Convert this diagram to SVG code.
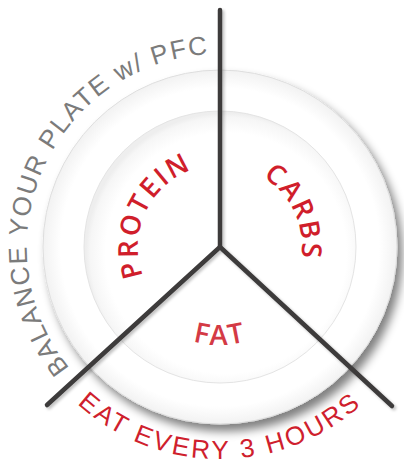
<svg xmlns="http://www.w3.org/2000/svg" xmlns:xlink="http://www.w3.org/1999/xlink" width="404" height="462" viewBox="0 0 404 462">
  <defs>
    <style>
      .outer-lbl { font-family: "Liberation Sans", Arial, sans-serif; font-size: 26px; }
      .gray { fill: #7b7b7b; }
      .red { fill: #cf1f2e; }
      .food { font-family: "Open Sans", "Liberation Sans", Arial, sans-serif; font-size: 27.5px; font-weight: 600; fill: #d01e2b; letter-spacing: 2px; }
      .arm { fill: none; stroke: #3c3a3a; stroke-width: 4.5; stroke-linecap: round; stroke-linejoin: round; }
    </style>
    <filter id="plateShadow" x="-20%" y="-20%" width="150%" height="150%">
      <feGaussianBlur in="SourceAlpha" stdDeviation="5"/>
      <feOffset dx="5" dy="7" result="b"/>
      <feComponentTransfer><feFuncA type="linear" slope="0.5"/></feComponentTransfer>
      <feMerge><feMergeNode/><feMergeNode in="SourceGraphic"/></feMerge>
    </filter>
    <filter id="lineShadow" x="-20%" y="-20%" width="140%" height="140%">
      <feGaussianBlur in="SourceAlpha" stdDeviation="1.5"/>
      <feOffset dx="1.5" dy="1.5"/>
      <feComponentTransfer><feFuncA type="linear" slope="0.25"/></feComponentTransfer>
      <feMerge><feMergeNode/><feMergeNode in="SourceGraphic"/></feMerge>
    </filter>
    <radialGradient id="rimGrad" cx="220" cy="247" r="177" gradientUnits="userSpaceOnUse">
      <stop offset="0.9" stop-color="#ffffff"/>
      <stop offset="1" stop-color="#f2f2f2"/>
    </radialGradient>
    <radialGradient id="wellGrad" cx="226" cy="253" r="140" gradientUnits="userSpaceOnUse">
      <stop offset="0.86" stop-color="#ffffff"/>
      <stop offset="0.97" stop-color="#f6f6f6"/>
      <stop offset="1" stop-color="#eeeeee"/>
    </radialGradient>
    <path id="balPath" d="M147.7,425.9 A193,193 0 1 1 304.6,73.5"/>
    <path id="eatPath" d="M8,247 A212,212 0 0 0 432,247"/>
    <path id="proPath" d="M185.3,321.3 A82,82 0 1 1 254.7,172.7"/>
    <path id="carbPath" d="M185.3,172.7 A82,82 0 1 1 254.7,321.3"/>
    <path id="fatPath" d="M122,247 A98,98 0 0 0 318,247"/>
  </defs>

  <rect width="404" height="462" fill="#ffffff"/>

  <g id="plate">
    <circle cx="220" cy="247" r="177" fill="url(#rimGrad)" stroke="#dedede" stroke-width="1" filter="url(#plateShadow)"/>
    <circle cx="220" cy="247" r="136" fill="url(#wellGrad)" stroke="#e4e4e4" stroke-width="1"/>
  </g>

  <g id="balance-label">
    <text class="outer-lbl gray" letter-spacing="1.6"><textPath xlink:href="#balPath" href="#balPath" startOffset="50%" text-anchor="middle">BALANCE YOUR PLATE w/ PFC</textPath></text>
  </g>

  <g id="eat-label">
    <text class="outer-lbl red" letter-spacing="2.8"><textPath xlink:href="#eatPath" href="#eatPath" startOffset="50%" text-anchor="middle">EAT EVERY 3 HOURS</textPath></text>
  </g>

  <g id="protein">
    <text class="food"><textPath xlink:href="#proPath" href="#proPath" startOffset="50%" text-anchor="middle">PROTEIN</textPath></text>
  </g>

  <g id="carbs">
    <text class="food"><textPath xlink:href="#carbPath" href="#carbPath" startOffset="50%" text-anchor="middle">CARBS</textPath></text>
  </g>

  <g id="fat">
    <text class="food" style="fill:#d43a45;font-size:28px"><textPath xlink:href="#fatPath" href="#fatPath" startOffset="50%" text-anchor="middle">FAT</textPath></text>
  </g>

  <g id="connectors" filter="url(#lineShadow)">
    <path class="arm" d="M220,10 L220,247"/>
    <path class="arm" d="M47,405 L220,247 L392,406"/>
  </g>
</svg>
